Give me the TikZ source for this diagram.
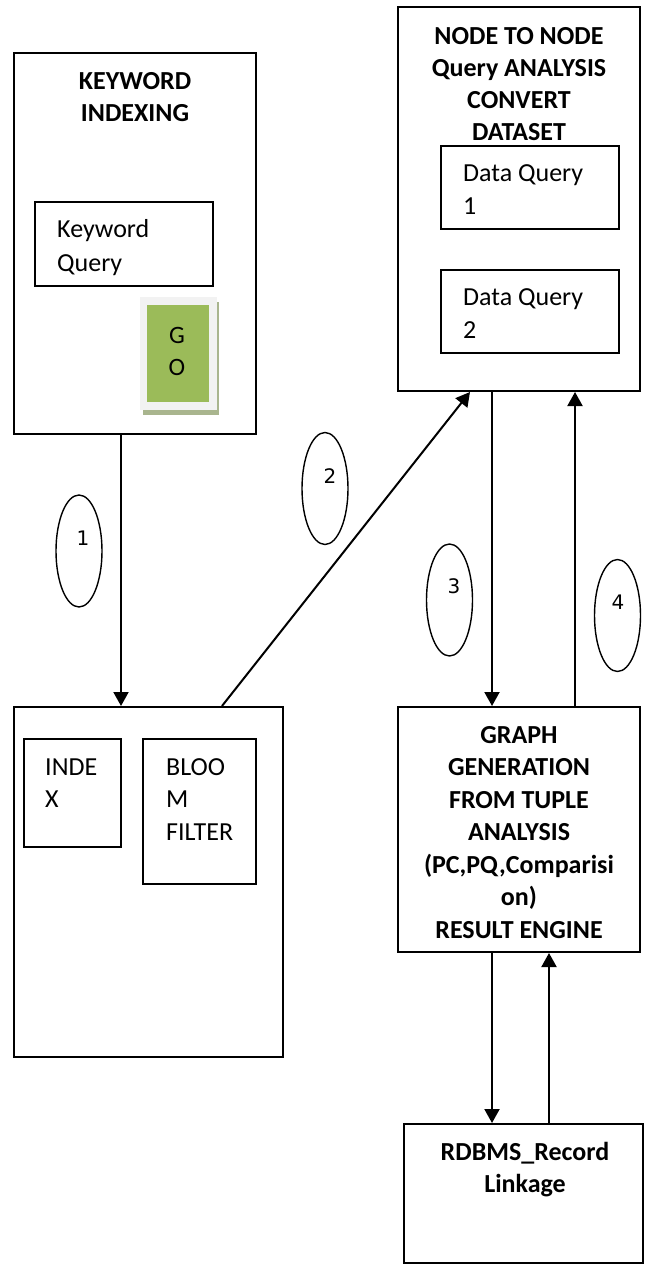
\documentclass[tikz,border=0pt]{standalone}
\usepackage{fontspec}
\setmainfont{Carlito}
\newfontfamily\numfont{DejaVu Sans}
\usetikzlibrary{arrows.meta,shapes.geometric}
\definecolor{gogreen}{HTML}{9BBB59}
\definecolor{goframe}{HTML}{F2F2F2}
\definecolor{goshadow}{HTML}{A9B58E}
\tikzset{
  box/.style={draw, line width=2pt, inner sep=0pt, minimum width=#1},
  box/.default=242pt,
  title/.style={font=\fontsize{26}{33}\selectfont\bfseries, anchor=base, inner sep=0pt},
  plain/.style={font=\fontsize{26}{33}\selectfont, anchor=base west, inner sep=0pt},
  golabel/.style={font=\fontsize{25}{33}\selectfont, anchor=base, inner sep=0pt},
  oval/.style={draw, ellipse, line width=1.4pt, minimum width=46pt, minimum height=112pt, inner sep=0pt},
  num/.style={font=\numfont\fontsize{20}{24}\selectfont, anchor=base, inner sep=0pt},
  arr/.style={line width=2pt, -{Triangle[length=14pt,width=15pt]}}
}
\begin{document}
\begin{tikzpicture}[x=1pt,y=-1pt]
\useasboundingbox (0,0) rectangle (645,1265);

% Keyword indexing block
\node[box, minimum height=381pt] (kw) at (135,243.5) {};
\node[title] (kwt1) at (135,90) {KEYWORD};
\node[title] (kwt2) at (135,122) {INDEXING};
\node[box=178pt, minimum height=84pt] (kq) at (124,244) {};
\node[plain] (kqt1) at (57,238) {Keyword};
\node[plain] (kqt2) at (57,271) {Query};
% GO button with its frame and shadow
\node[fill=goshadow, minimum width=76pt, minimum height=113pt, inner sep=0pt] (goshd) at (181,358.5) {};
\node[fill=goframe, minimum width=77pt, minimum height=113pt, inner sep=0pt] (gofrm) at (178.5,353.5) {};
\node[fill=gogreen, minimum width=62pt, minimum height=97pt, inner sep=0pt] (go) at (178,353.5) {};
\node[golabel] (gog) at (177,343) {G};
\node[golabel] (goo) at (177,375) {O};

% Node to node analysis block
\node[box, minimum height=384pt] (nn) at (519,199) {};
\node[title] (nnt1) at (519,45) {NODE TO NODE};
\node[title] (nnt2) at (519,77) {Query ANALYSIS};
\node[title] (nnt3) at (519,109) {CONVERT};
\node[title] (nnt4) at (519,141) {DATASET};
\node[box=178pt, minimum height=83pt] (dq1) at (530,187.5) {};
\node[plain] (dq1t1) at (463,182) {Data Query};
\node[plain] (dq1t2) at (463,215) {1};
\node[box=178pt, minimum height=83pt] (dq2) at (530,311.5) {};
\node[plain] (dq2t1) at (463,305) {Data Query};
\node[plain] (dq2t2) at (463,338) {2};

% Index and bloom filter block
\node[box=269pt, minimum height=350pt] (ix) at (148.5,882) {};
\node[box=97pt, minimum height=108pt] (idx) at (72.5,793) {};
\node[plain] (idxt1) at (45,775) {INDE};
\node[plain] (idxt2) at (45,807) {X};
\node[box=113pt, minimum height=145pt] (bf) at (199.5,811.5) {};
\node[plain] (bft1) at (166,775) {BLOO};
\node[plain] (bft2) at (166,807) {M};
\node[plain] (bft3) at (166,840) {FILTER};

% Graph generation block
\node[box, minimum height=245pt] (gg) at (519,829.5) {};
\node[title] (ggt1) at (519,743) {GRAPH};
\node[title] (ggt2) at (519,775.5) {GENERATION};
\node[title] (ggt3) at (519,808) {FROM TUPLE};
\node[title] (ggt4) at (519,840.5) {ANALYSIS};
\node[title] (ggt5) at (519,873) {(PC,PQ,Comparisi};
\node[title] (ggt6) at (519,905.5) {on)};
\node[title] (ggt7) at (519,938) {RESULT ENGINE};

% Record linkage block
\node[box=239pt, minimum height=139pt] (rd) at (523.5,1193.5) {};
\node[title] (rdt1) at (525,1160) {RDBMS\_Record};
\node[title] (rdt2) at (525,1192) {Linkage};

% Connectors
\draw[arr] ([xshift=-14pt]kw.south) -- ([xshift=-27.5pt]ix.north);
\draw[arr] ([xshift=73.5pt]ix.north) -- ([xshift=-49pt]nn.south);
\draw[arr] ([xshift=-27pt]nn.south) -- ([xshift=-27pt]gg.north);
\draw[arr] ([xshift=56pt]gg.north) -- ([xshift=56pt]nn.south);
\draw[arr] ([xshift=-27pt]gg.south) -- ([xshift=-31.5pt]rd.north);
\draw[arr] ([xshift=25.5pt]rd.north) -- ([xshift=30pt]gg.south);

% Step numbers
\node[oval] (s1) at (79,551) {};
\node[num] (n1) at (83,545) {1};
\node[oval] (s2) at (325,488.5) {};
\node[num] (n2) at (330,483) {2};
\node[oval] (s3) at (449.5,600) {};
\node[num] (n3) at (454,593) {3};
\node[oval] (s4) at (617.5,615.5) {};
\node[num] (n4) at (618,609) {4};
\end{tikzpicture}
\end{document}
